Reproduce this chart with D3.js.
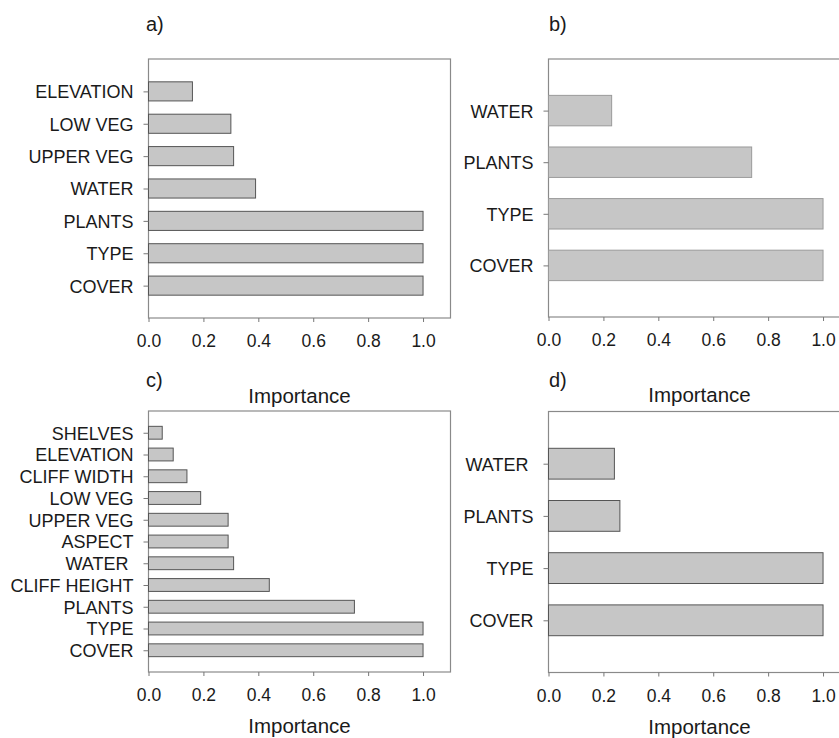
<!DOCTYPE html>
<meta charset="utf-8">
<style>
body { margin: 0; background: #fff; }
svg text { font-family: "Liberation Sans", Arial, sans-serif; fill: #1a1a1a; }
.axis path, .axis line { stroke: #777; }
.axis text { font-size: 17.5px; white-space: pre; }
.axis.y text { font-size: 18px; }
.frame { fill: none; stroke: #8a8a8a; stroke-width: 1.2; }
.title { font-size: 20.5px; }
.tag { font-size: 20px; }
</style>
<body>
<script src="https://cdn.jsdelivr.net/npm/d3@7"></script>
<script>
// panel a
var catsA = ["ELEVATION", "LOW VEG", "UPPER VEG", "WATER", "PLANTS", "TYPE", "COVER"];
var valsA = [0.16, 0.30, 0.31, 0.39, 1.0, 1.0, 1.0];
// panel b
var catsB = ["WATER", "PLANTS", "TYPE", "COVER"];
var valsB = [0.23, 0.74, 1.0, 1.0];
// panel c
var catsC = ["SHELVES", "ELEVATION", "CLIFF WIDTH", "LOW VEG", "UPPER VEG", "ASPECT",
             "WATER ", "CLIFF HEIGHT", "PLANTS", "TYPE", "COVER"];
var valsC = [0.05, 0.09, 0.14, 0.19, 0.29, 0.29, 0.31, 0.44, 0.75, 1.0, 1.0];
// panel d
var catsD = ["WATER ", "PLANTS", "TYPE", "COVER"];
var valsD = [0.24, 0.26, 1.0, 1.0];

var xTicks = [0, 0.2, 0.4, 0.6, 0.8, 1.0];
var xTitle = "Importance";

var svg = d3.select("body").append("svg")
    .attr("width", 839)
    .attr("height", 738);

var panels = [
  {tag: "a)", cats: catsA, vals: valsA, x0: 148.5, y0: 59, y1: 318, tagX: 146, tagY: 31, titleY: 403, stroke: "#555"},
  {tag: "b)", cats: catsB, vals: valsB, x0: 548.5, y0: 59, y1: 317, tagX: 549, tagY: 31, titleY: 402, stroke: "#9a9a9a"},
  {tag: "c)", cats: catsC, vals: valsC, x0: 148.5, y0: 411, y1: 672, tagX: 146, tagY: 387, titleY: 733, stroke: "#555"},
  {tag: "d)", cats: catsD, vals: valsD, x0: 548.5, y0: 411.5, y1: 672.5, tagX: 549, tagY: 387, titleY: 734, stroke: "#555"}
];

panels.forEach(function(p) {
  var x = d3.scaleLinear().domain([0, 1.1]).range([p.x0, p.x0 + 302]);
  var y = d3.scalePoint().domain(p.cats).range([p.y0, p.y1]).padding(1);
  var bh = y.step() * 0.59;

  var g = svg.append("g");

  g.append("rect")
      .attr("class", "frame")
      .attr("x", x(0))
      .attr("y", p.y0)
      .attr("width", x(1.1) - x(0))
      .attr("height", p.y1 - p.y0);

  g.selectAll(".bar")
      .data(p.vals)
    .enter().append("rect")
      .attr("class", "bar")
      .attr("x", x(0))
      .attr("y", function(d, i) { return y(p.cats[i]) - bh / 2; })
      .attr("width", function(d) { return x(d) - x(0); })
      .attr("height", bh)
      .attr("fill", "#c6c6c6")
      .attr("stroke", p.stroke)
      .attr("stroke-width", 1);

  g.append("g")
      .attr("class", "axis x")
      .attr("transform", "translate(0," + p.y1 + ")")
      .call(d3.axisBottom(x).tickValues(xTicks).tickFormat(d3.format(".1f"))
        .tickSize(4).tickPadding(13))
      .call(function(a) { a.select(".domain").remove(); });

  g.append("g")
      .attr("class", "axis y")
      .attr("transform", "translate(" + x(0) + ",0)")
      .call(d3.axisLeft(y).tickSize(5).tickPadding(10))
      .call(function(a) { a.select(".domain").remove(); })
      .selectAll("text").attr("dy", "0.36em");

  g.append("text")
      .attr("class", "tag")
      .attr("x", p.tagX)
      .attr("y", p.tagY)
      .text(p.tag);

  g.append("text")
      .attr("class", "title")
      .attr("x", (x(0) + x(1.1)) / 2)
      .attr("y", p.titleY)
      .attr("text-anchor", "middle")
      .text(xTitle);
});
</script>
